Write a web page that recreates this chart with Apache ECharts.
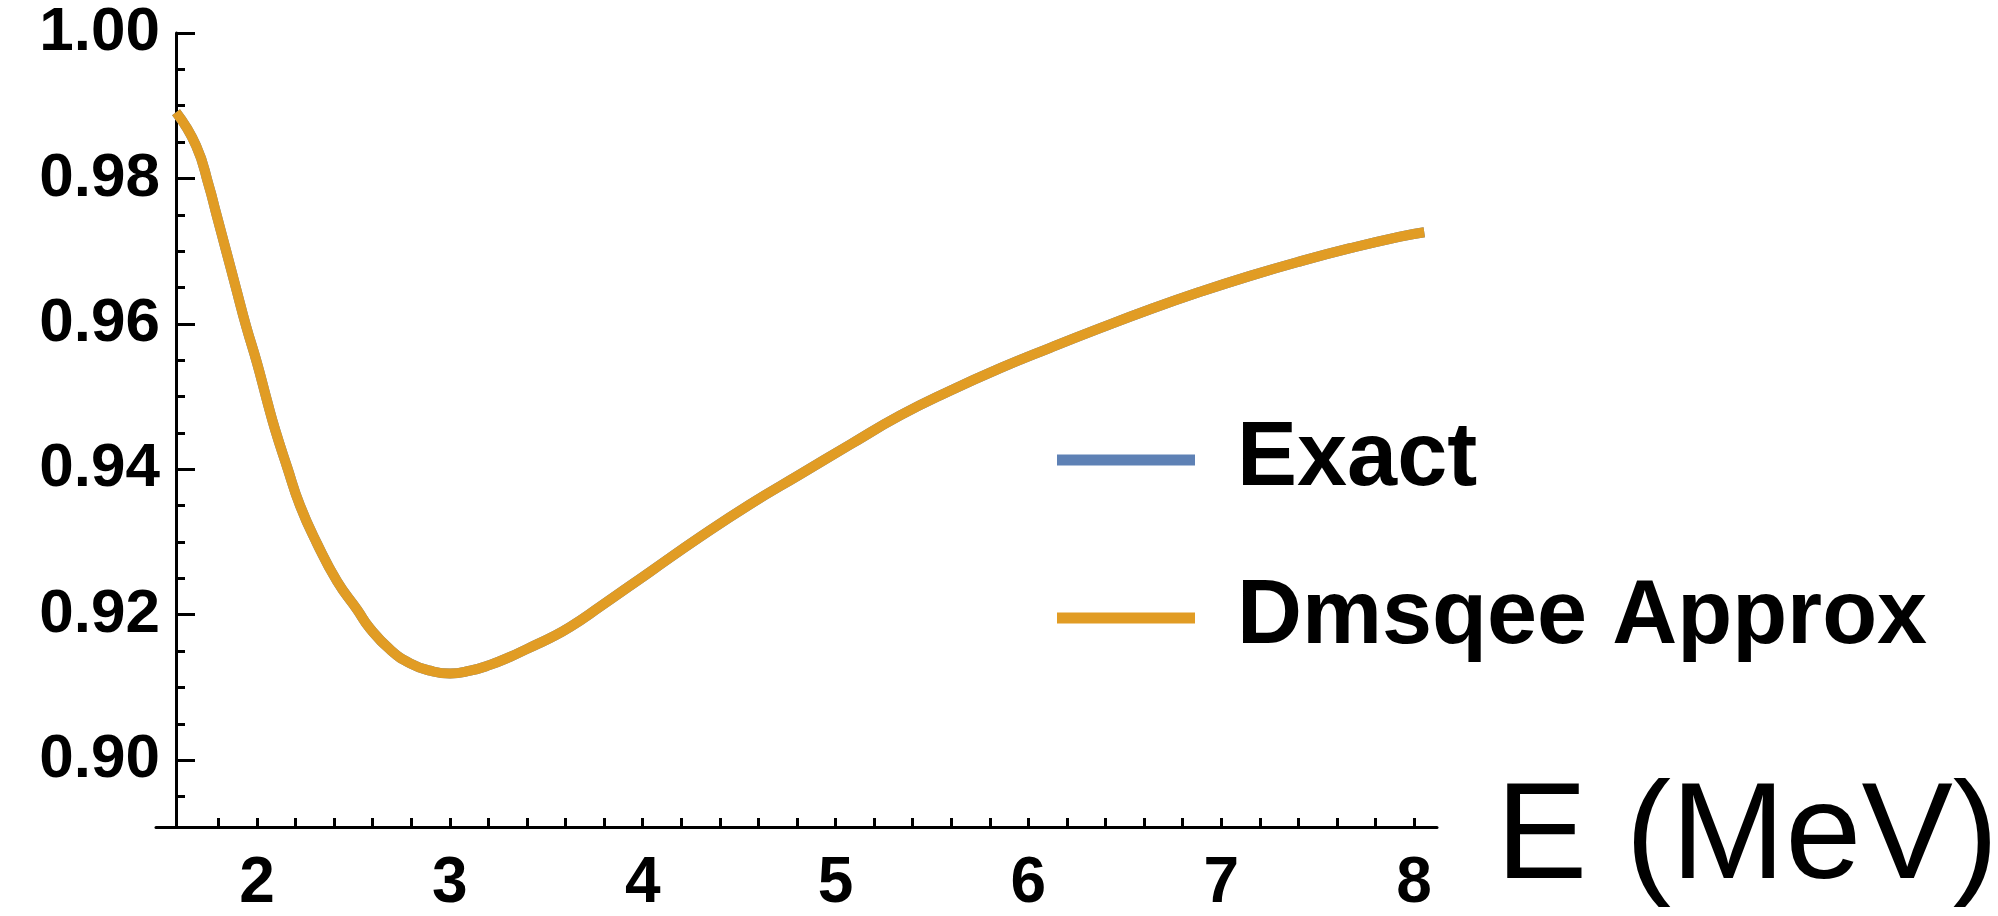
<!DOCTYPE html>
<html>
<head>
<meta charset="utf-8">
<script src="https://cdn.jsdelivr.net/npm/echarts@6/dist/echarts.min.js"></script>
<style>
html,body{margin:0;padding:0;background:#fff;}
#chart{width:1998px;height:916px;}
</style>
</head>
<body>
<div id="chart"></div>
<script>
// ---- data ----
const energy = [1.580, 1.684, 1.751, 1.787, 1.839, 1.891, 1.943, 2.000, 2.052, 2.093, 2.156, 2.223, 2.311, 2.415, 2.519, 2.586, 2.690, 2.794, 2.897, 3.001, 3.105, 3.208, 3.312, 3.416, 3.520, 3.623, 3.779, 4.038, 4.298, 4.557, 4.816, 5.076, 5.335, 5.594, 5.854, 6.113, 6.372, 6.632, 6.891, 7.150, 7.410, 7.669, 7.928, 8.053];
const exactValues = [0.9891, 0.9845, 0.9789, 0.9753, 0.9701, 0.9649, 0.9597, 0.9546, 0.9494, 0.9455, 0.9403, 0.9350, 0.9298, 0.9246, 0.9207, 0.9181, 0.9152, 0.9133, 0.9123, 0.9119, 0.9123, 0.9131, 0.9142, 0.9155, 0.9168, 0.9183, 0.9211, 0.9259, 0.9307, 0.9352, 0.9393, 0.9434, 0.9474, 0.9508, 0.9539, 0.9567, 0.9594, 0.9620, 0.9644, 0.9666, 0.9686, 0.9704, 0.9720, 0.9726];
const approxValues = [0.9891, 0.9845, 0.9789, 0.9753, 0.9701, 0.9649, 0.9597, 0.9546, 0.9494, 0.9455, 0.9403, 0.9350, 0.9298, 0.9246, 0.9207, 0.9181, 0.9152, 0.9133, 0.9123, 0.9119, 0.9123, 0.9131, 0.9142, 0.9155, 0.9168, 0.9183, 0.9211, 0.9259, 0.9307, 0.9352, 0.9393, 0.9434, 0.9474, 0.9508, 0.9539, 0.9567, 0.9594, 0.9620, 0.9644, 0.9666, 0.9686, 0.9704, 0.9720, 0.9726];
const seriesNames = ['Exact', 'Dmsqee Approx'];
const xLabelValues = [2, 3, 4, 5, 6, 7, 8];
const xTickValues = [1.8, 2.0, 2.2, 2.4, 2.6, 2.8, 3.0, 3.2, 3.4, 3.6, 3.8, 4.0, 4.2, 4.4, 4.6, 4.8, 5.0, 5.2, 5.4, 5.6, 5.8, 6.0, 6.2, 6.4, 6.6, 6.8, 7.0, 7.2, 7.4, 7.6, 7.8, 8.0];
const yLabelValues = [0.90, 0.92, 0.94, 0.96, 0.98, 1.00];
const yMinorTickValues = [0.895, 0.905, 0.91, 0.915, 0.925, 0.93, 0.935, 0.945, 0.95, 0.955, 0.965, 0.97, 0.975, 0.985, 0.99, 0.995];
const xAxisName = 'E (MeV)';

// ---- chart ----
const FONT = 'Liberation Sans, Arial, sans-serif';
const X_MIN = 1.476, X_MAX = 8.119, Y_MIN = 0.8908, Y_MAX = 1.0;
const chart = echarts.init(document.getElementById('chart'), null, {renderer: 'canvas'});
const pairs = vals => energy.map((e, i) => [e, vals[i]]);
const axisLineStyle = {color: '#000', width: 3};

chart.setOption({
  animation: false,
  backgroundColor: '#fff',
  title: {
    text: xAxisName, left: 1496, top: 772, padding: 0,
    textStyle: {fontFamily: FONT, fontSize: 137, fontWeight: 'normal', color: '#000', lineHeight: 137}
  },
  grid: {left: 156, right: 561, top: 33, bottom: 85, containLabel: false},
  legend: {
    orient: 'vertical', left: 1057, top: 407, padding: 0,
    itemWidth: 138, itemHeight: 11, itemGap: 52, icon: 'rect',
    data: seriesNames,
    textStyle: {fontFamily: FONT, fontWeight: 'bold', fontSize: 90, color: '#000', lineHeight: 88, padding: [0, 0, 18, 37]}
  },
  xAxis: {
    type: 'value', min: X_MIN, max: X_MAX,
    axisLine: {show: true, onZero: false, lineStyle: axisLineStyle},
    axisTick: {show: true, inside: true, length: 9, customValues: xTickValues, lineStyle: axisLineStyle},
    axisLabel: {show: true, customValues: xLabelValues, margin: 25, fontFamily: FONT, fontWeight: 'bold', fontSize: 64, color: '#000'},
    splitLine: {show: false}
  },
  yAxis: [{
    type: 'value', min: Y_MIN, max: Y_MAX, position: 'left', offset: -20,
    axisLine: {show: true, onZero: false, lineStyle: axisLineStyle},
    axisTick: {show: true, inside: true, length: 19, customValues: yLabelValues, lineStyle: axisLineStyle},
    axisLabel: {show: true, customValues: yLabelValues, margin: 16, fontFamily: FONT, fontWeight: 'bold', fontSize: 62, color: '#000',
      formatter: v => v.toFixed(2)},
    splitLine: {show: false}
  }, {
    type: 'value', min: Y_MIN, max: Y_MAX, position: 'left', offset: -20,
    axisLine: {show: false, onZero: false},
    axisTick: {show: true, inside: true, length: 9, customValues: yMinorTickValues, lineStyle: axisLineStyle},
    axisLabel: {show: false},
    splitLine: {show: false}
  }],
  series: [{
    name: seriesNames[0], type: 'line', data: pairs(exactValues), yAxisIndex: 0,
    showSymbol: false, symbol: 'none', smooth: 0.5, color: '#5E81B5',
    lineStyle: {width: 10, color: '#5E81B5'}, itemStyle: {color: '#5E81B5'}, z: 2
  }, {
    name: seriesNames[1], type: 'line', data: pairs(approxValues), yAxisIndex: 0,
    showSymbol: false, symbol: 'none', smooth: 0.5, color: '#E19C24',
    lineStyle: {width: 10, color: '#E19C24'}, itemStyle: {color: '#E19C24'}, z: 3
  }]
});
</script>
</body>
</html>
